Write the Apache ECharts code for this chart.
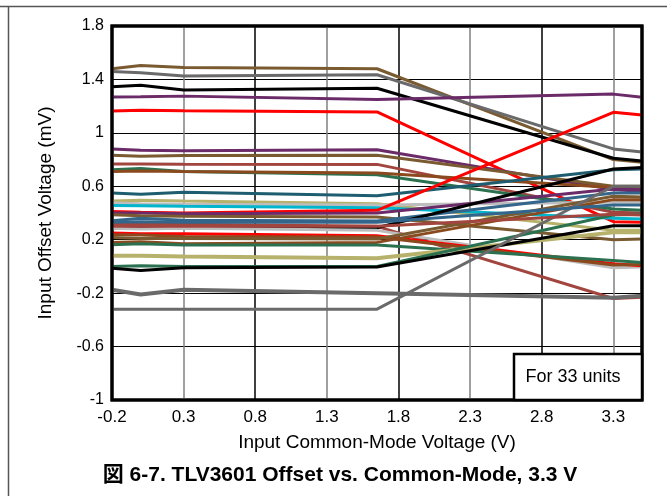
<!DOCTYPE html>
<html>
<head>
<meta charset="utf-8">
<script src="https://cdn.jsdelivr.net/npm/echarts@6/dist/echarts.min.js"></script>
<style>
html,body{margin:0;padding:0;background:#fff;}
#c{width:667px;height:496px;}
</style>
</head>
<body>
<div id="c"></div>
<script>
// Common-mode voltage sample points (V)
const xValues = [-0.2, 0, 0.3, 1.65, 3.3, 3.5];

// Offset voltage (mV) per unit
const u01 = [1.48, 1.505, 1.49, 1.48, 0.80, 0.78];
const u02 = [1.46, 1.45, 1.425, 1.435, 0.88, 0.857];
const u03 = [1.345, 1.356, 1.32, 1.334, 0.81, 0.79];
const u04 = [1.268, 1.27, 1.275, 1.25, 1.29, 1.266];
const u05 = [1.164, 1.17, 1.165, 1.157, 0.335, 0.33];
const u06 = [0.879, 0.87, 0.866, 0.874, 0.575, 0.56];
const u07 = [0.832, 0.825, 0.83, 0.832, 0.60, 0.60];
const u08 = [0.767, 0.767, 0.765, 0.764, 0.405, 0.40];
const u09 = [0.724, 0.734, 0.711, 0.687, 0.43, 0.42];
const u10 = [0.71, 0.715, 0.71, 0.70, 0.59, 0.58];
const u11 = [0.55, 0.54, 0.555, 0.53, 0.724, 0.73];
const u12 = [0.49, 0.495, 0.49, 0.47, 0.27, 0.27];
const u13 = [0.475, 0.47, 0.465, 0.46, 0.48, 0.48];
const u14 = [0.457, 0.455, 0.45, 0.44, 0.36, 0.355];
const u15 = [0.412, 0.405, 0.40, 0.42, 1.154, 1.134];
const u16 = [0.40, 0.40, 0.395, 0.40, 0.58, 0.575];
const u17 = [0.387, 0.38, 0.375, 0.37, 0.20, 0.205];
const u18 = [0.342, 0.36, 0.345, 0.34, 0.55, 0.55];
const u19 = [0.32, 0.32, 0.315, 0.30, -0.24, -0.23];
const u20 = [0.287, 0.29, 0.29, 0.29, 0.73, 0.74];
const u21 = [0.285, 0.28, 0.285, 0.27, -0.01, -0.005];
const u22 = [0.25, 0.245, 0.245, 0.23, 0.02, 0.005];
const u23 = [0.237, 0.235, 0.225, 0.22, 0.01, 0.015];
const u24 = [0.217, 0.21, 0.21, 0.205, 0.525, 0.52];
const u25 = [0.18, 0.185, 0.17, 0.18, 0.50, 0.50];
const u26 = [0.162, 0.17, 0.16, 0.16, 0.045, 0.03];
const u27 = [0.08, 0.08, 0.075, 0.062, 0.255, 0.255];
const u28 = [0.0, 0.005, 0.0, 0.0, 0.385, 0.39];
const u29 = [-0.013, -0.03, -0.01, -0.005, 0.305, 0.305];
const u30 = [-0.175, -0.21, -0.175, -0.2, -0.235, -0.22];
const u31 = [-0.32, -0.32, -0.32, -0.32, 0.6, 0.6];
const u32 = [0.30, 0.30, 0.30, 0.30, 0.39, 0.385];
const u33 = [0.33, 0.335, 0.33, 0.33, 0.46, 0.46];

const units = [u01,u02,u03,u04,u05,u06,u07,u08,u09,u10,u11,u12,u13,u14,u15,u16,u17,u18,u19,u20,u21,u22,u23,u24,u25,u26,u27,u28,u29,u30,u31,u32,u33];

// styles (kept separate from data)
const BROWN='#7a5b31', GRAY='#6a6a6a', BLACK='#000000', PURPLE='#6b2b68', RED='#ff0000',
      DKRED='#a3453f', GREEN='#2b7150', RUST='#8a4a1e', TEAL='#1e5d6f', KHAKI='#b6b26c',
      LTGRAY='#bdbdbd', CYAN='#00b5cc', STEEL='#33668a';
const unitColors = [BROWN,GRAY,BLACK,PURPLE,RED,PURPLE,BROWN,DKRED,GREEN,RUST,TEAL,KHAKI,LTGRAY,CYAN,RED,PURPLE,BROWN,STEEL,DKRED,BLACK,LTGRAY,RED,RUST,BROWN,RUST,GREEN,KHAKI,GREEN,BLACK,GRAY,GRAY,DKRED,STEEL];
const unitWidths = units.map((u,i)=> (i===26||i===29) ? 4 : 3);

const FONT = '"Liberation Sans", Arial, "Noto Sans CJK JP", sans-serif';

const series = units.map((u,i)=>({
  type:'line',
  name:'Unit '+(i+1),
  data: xValues.map((x,j)=>[x,u[j]]),
  symbol:'none',
  lineStyle:{color:unitColors[i], width:unitWidths[i]},
  itemStyle:{color:unitColors[i]},
  z:2
}));

const chart = echarts.init(document.getElementById('c'), null, {renderer:'canvas'});
chart.setOption({
  animation:false,
  backgroundColor:'#fff',
  grid:{left:112, right:25, top:26, bottom:96, show:true, borderColor:'#000', borderWidth:3, backgroundColor:'transparent'},
  xAxis:{
    type:'value', min:-0.2, max:3.5, interval:0.5,
    name:'Input Common-Mode Voltage (V)', nameLocation:'middle', nameGap:33,
    nameTextStyle:{fontFamily:FONT, fontSize:19, color:'#000'},
    axisLine:{show:false}, axisTick:{show:false},
    axisLabel:{fontFamily:FONT, fontSize:17, color:'#000', margin:9, showMaxLabel:false,
      formatter:v=>(+v.toFixed(1)).toString()},
    splitLine:{show:true, lineStyle:{color:['#000','#808080'], width:1.5}}
  },
  yAxis:{
    type:'value', min:-1, max:1.8, interval:0.4,
    name:'Input Offset Voltage (mV)', nameLocation:'middle', nameGap:57,
    nameTextStyle:{fontFamily:FONT, fontSize:19, color:'#000'},
    axisLine:{show:false}, axisTick:{show:false},
    axisLabel:{fontFamily:FONT, fontSize:16, color:'#000', margin:8,
      formatter:v=>(+v.toFixed(1)).toString()},
    splitLine:{show:true, lineStyle:{color:'#000', width:1}}
  },
  series: series,
  graphic:[
    {type:'line', shape:{x1:0,y1:6.5,x2:667,y2:6.5}, style:{stroke:'#555', lineWidth:1.5}, silent:true},
    {type:'line', shape:{x1:8.5,y1:6.5,x2:8.5,y2:496}, style:{stroke:'#555', lineWidth:1.5}, silent:true},
    {type:'rect', z:100, shape:{x:514,y:354,width:128,height:46}, style:{fill:'#fff', stroke:'#000', lineWidth:2.5}},
    {type:'text', z:101, x:573, y:377, style:{text:'For 33 units', font:'18px '+FONT, fill:'#000', textAlign:'center', textVerticalAlign:'middle'}},
    {type:'rect', z:99, shape:{x:112,y:26,width:530,height:374}, style:{fill:'none', stroke:'#000', lineWidth:3}},
    {type:'text', x:340, y:475, style:{text:'図 6-7. TLV3601 Offset vs. Common-Mode, 3.3 V', font:'bold 21px '+FONT, fill:'#000', textAlign:'center', textVerticalAlign:'middle'}}
  ]
});
</script>
</body>
</html>
